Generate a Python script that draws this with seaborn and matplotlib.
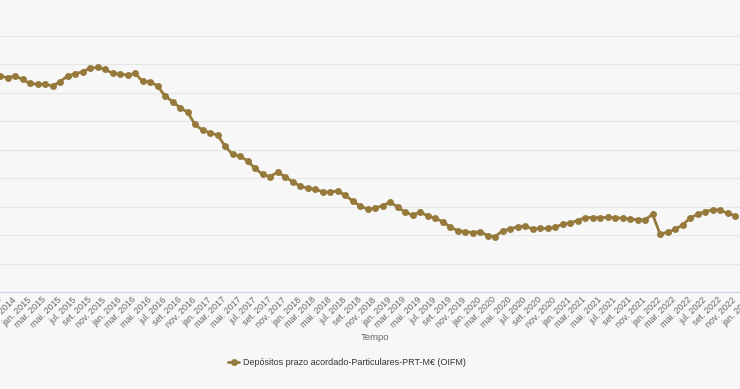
import matplotlib
matplotlib.use("Agg")
import matplotlib.pyplot as plt
import seaborn as sns
import pandas as pd
from matplotlib.lines import Line2D

# ---- data (M€), monthly from set. 2014 to nov. 2022 ----
meses = ["jan.", "fev.", "mar.", "abr.", "mai.", "jun.",
         "jul.", "ago.", "set.", "out.", "nov.", "dez."]
valores = [
    87900, 87600, 87900, 87300, 86600, 86450, 86450, 86150, 86900, 87900,
    88250, 88650, 89250, 89400, 89100, 88350, 88250, 88050, 88350, 87000,
    86900, 86150, 84400, 83400, 82350, 81550, 79400, 78400, 77950, 77550,
    75600, 74150, 73850, 73000, 71700, 70650, 70250, 71000, 70250, 69350,
    68600, 68200, 68000, 67600, 67500, 67750, 67000, 66000, 65100, 64550,
    64700, 65150, 65750, 64950, 64000, 63500, 64000, 63400, 62950, 62350,
    61450, 60750, 60600, 60400, 60600, 59900, 59700, 60750, 61050, 61450,
    61600, 61050, 61150, 61150, 61350, 61900, 62150, 62500, 63050, 63050,
    63050, 63100, 63050, 62950, 62800, 62650, 62650, 63650, 60200, 60450,
    61000, 61750, 62950, 63650, 64100, 64400, 64400, 63800, 63400,
]
inicio_ano, inicio_mes = 2014, 9  # set. 2014
serie = "Depósitos prazo acordado-Particulares-PRT-M€ (OIFM)"

tempo = []
for i in range(len(valores)):
    m = inicio_mes - 1 + i
    tempo.append(f"{meses[m % 12]} {inicio_ano + m // 12}")

# tick labels every 2 months (set. 2014 .. jan. 2023)
tick_pos = list(range(0, 101, 2))
tick_labels = []
for i in tick_pos:
    m = inicio_mes - 1 + i
    tick_labels.append(f"{meses[m % 12]} {inicio_ano + m // 12}")

df = pd.DataFrame({"idx": range(len(valores)), "Tempo": tempo, "valor": valores})

# ---- style ----
sns.set_style("white")
plt.rcParams["font.family"] = ["Liberation Sans", "DejaVu Sans"]
bg = "#f7f7f7"
cor = "#967a3c"

W, H = 740, 389
fig = plt.figure(figsize=(W / 100, H / 100), dpi=100, facecolor=bg)
px_mes = 7.5
left_px, right_px = -20, 760
top_px, bot_px = 35.5, 292
ax = fig.add_axes([left_px / W, 1 - bot_px / H, (right_px - left_px) / W, (bot_px - top_px) / H])
ax.set_facecolor(bg)

sns.lineplot(data=df, x="idx", y="valor", ax=ax, color=cor, linewidth=2,
             marker="o", markersize=5.0, markeredgewidth=0, legend=False)

ax.set_xlim(left_px / px_mes, right_px / px_mes)
ax.set_ylim(50000, 95000)
ax.set_yticks(range(50000, 95001, 5000))
ax.yaxis.grid(True, color="#e6e6e6", linewidth=0.8)
ax.set_axisbelow(True)
ax.tick_params(axis="y", left=False, labelleft=False)

ax.set_xticks(tick_pos)
ax.set_xticklabels(tick_labels, rotation=45, ha="right", va="center",
                   rotation_mode="anchor", fontsize=6.5, color="#666666")
ax.tick_params(axis="x", length=0, pad=4.5)
ax.set_xlabel("")
ax.set_ylabel("")

for s in ["top", "left", "right"]:
    ax.spines[s].set_visible(False)
ax.spines["bottom"].set_color("#ccd6eb")
ax.spines["bottom"].set_linewidth(0.9)

fig.text(375 / W, 1 - 338 / H, "Tempo", ha="center", va="center",
         fontsize=6.8, color="#666666")

handle = Line2D([], [], color=cor, linewidth=2, marker="o", markersize=5,
                markeredgewidth=0)
fig.legend([handle], [serie], loc="center", bbox_to_anchor=(347 / W, 1 - 362.7 / H),
           frameon=False, fontsize=6.45, handlelength=1.2, handletextpad=0.4,
           labelcolor="#333333")

fig.savefig("out.png", dpi=100, facecolor=bg)
